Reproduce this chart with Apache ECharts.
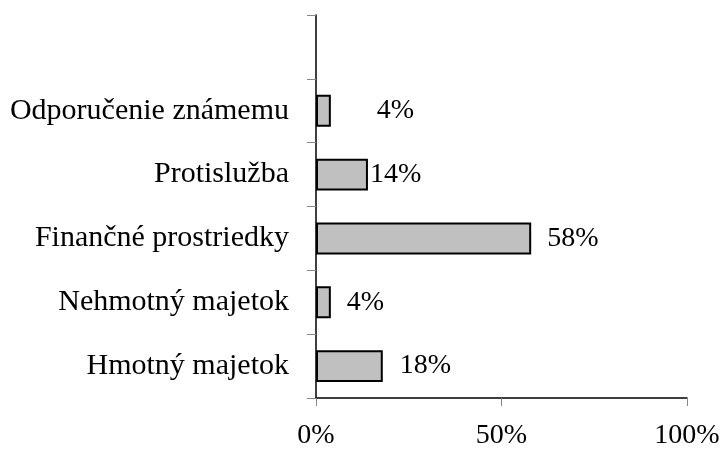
<!DOCTYPE html>
<html>
<head>
<meta charset="utf-8">
<script src="https://cdn.jsdelivr.net/npm/echarts@6/dist/echarts.min.js"></script>
<style>html,body{margin:0;padding:0;background:#fff;}#c{width:723px;height:450px;}</style>
</head>
<body>
<div id="c"></div>
<script>
var categories = ['Hmotný majetok', 'Nehmotný majetok', 'Finančné prostriedky', 'Protislužba', 'Odporučenie známemu', ''];
var values = [18, 4, 58, 14, 4, null];
var labelTexts = ['18%', '4%', '58%', '14%', '4%', ''];
var xTicks = [0, 50, 100];

var labelGaps = [17, 16, 16, 2, 46, 0];
var font = '"Liberation Serif", "Times New Roman", serif';

var chart = echarts.init(document.getElementById('c'), null, {renderer: 'canvas'});
chart.setOption({
  animation: false,
  backgroundColor: '#ffffff',
  grid: {left: 316, right: 36, top: 15, bottom: 50, containLabel: false},
  xAxis: {
    type: 'value', min: xTicks[0], max: xTicks[xTicks.length - 1], interval: 50,
    axisLine: {show: true, lineStyle: {color: '#000', width: 1.5}},
    axisTick: {show: true, length: 8, lineStyle: {color: '#888', width: 1}},
    splitLine: {show: false},
    axisLabel: {formatter: '{value}%', color: '#000', fontFamily: font, fontSize: 28, margin: 24}
  },
  yAxis: {
    type: 'category', data: categories,
    axisLine: {show: true, lineStyle: {color: '#000', width: 1.5}},
    axisTick: {show: true, length: 9, alignWithLabel: false, lineStyle: {color: '#888', width: 1}},
    axisLabel: {color: '#000', fontFamily: font, fontSize: 30, margin: 27},
    splitLine: {show: false}
  },
  series: [{
    type: 'bar',
    barCategoryGap: '50%',
    data: values.map(function (v, i) {
      return {value: v, label: {distance: labelGaps[i]}};
    }),
    itemStyle: {color: '#c0c0c0', borderColor: '#000', borderWidth: 2},
    label: {
      show: true, position: 'right', color: '#000', fontFamily: font, fontSize: 28,
      formatter: function (p) { return labelTexts[p.dataIndex]; }
    }
  }]
});
</script>
</body>
</html>
